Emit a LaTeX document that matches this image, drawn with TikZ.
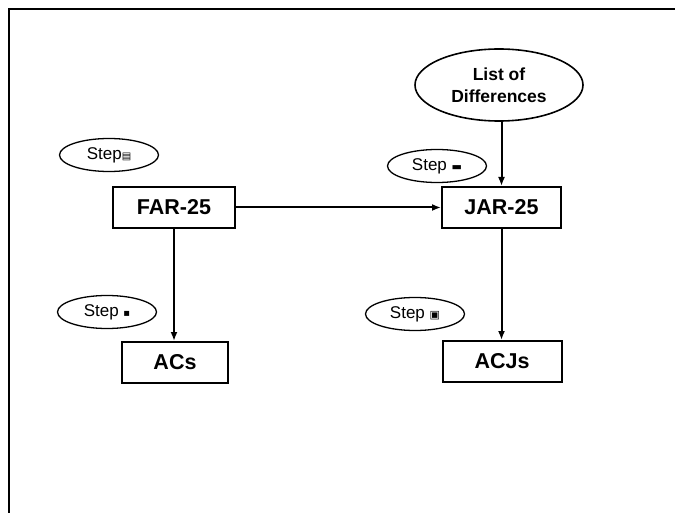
\documentclass[tikz,border=0pt]{standalone}
\usepackage{fontspec}
\setmainfont{Liberation Sans}
\newfontfamily\symfont{DejaVu Sans}
\usetikzlibrary{shapes.geometric,arrows.meta}
\tikzset{
  docbox/.style={draw, line width=2pt, font=\fontsize{21.5}{24}\selectfont\bfseries, minimum height=41pt, inner sep=0pt},
  stepoval/.style={draw, ellipse, line width=1.3pt, minimum width=99pt, minimum height=33pt, inner sep=0pt, font=\fontsize{17}{19}\selectfont},
  link/.style={line width=2pt, -{Latex[length=9pt,width=7pt]}}
}
\begin{document}
\begin{tikzpicture}[x=1pt, y=-1pt]
    \useasboundingbox (0,0) rectangle (675,513);
    \draw[line width=2.4pt] (9,513) -- (9,9) -- (676,9);
    % boxes
    \node[docbox, minimum width=122pt] (far) at (174,207.5) {FAR-25};
    \node[docbox, minimum width=119pt] (jar) at (501.5,207.5) {JAR-25};
    \node[docbox, minimum width=106pt] (acs) at (175,362.5) {ACs};
    \node[docbox, minimum width=119pt] (acjs) at (502,361.5) {ACJs};
    \node[draw, ellipse, line width=1.6pt, minimum width=168pt, minimum height=72pt, inner sep=0pt,
          align=center, font=\fontsize{17.5}{22}\selectfont\bfseries] (diff) at (499,85) {List of\\Differences};
    % steps
    \node[stepoval] (s1) at (109,155) {Step{\symfont\fontsize{10}{10}\selectfont ▤}};
    \node[stepoval] (s2) at (437,166) {Step {\symfont\fontsize{11}{11}\selectfont ▬}};
    \node[stepoval] (s3) at (107,312) {Step {\symfont\fontsize{10}{10}\selectfont ▪}};
    \node[stepoval] (s4) at (415,314) {Step {\symfont\fontsize{11}{11}\selectfont ▣}};
    % links
    \draw[link] (far) -- (jar);
    \draw[link] (far.south) -- (far.south |- acs.north);
    \draw[link] (diff.south -| jar) -- (jar);
    \draw[link] (jar.south) -- (jar.south |- acjs.north);
\end{tikzpicture}
\end{document}
